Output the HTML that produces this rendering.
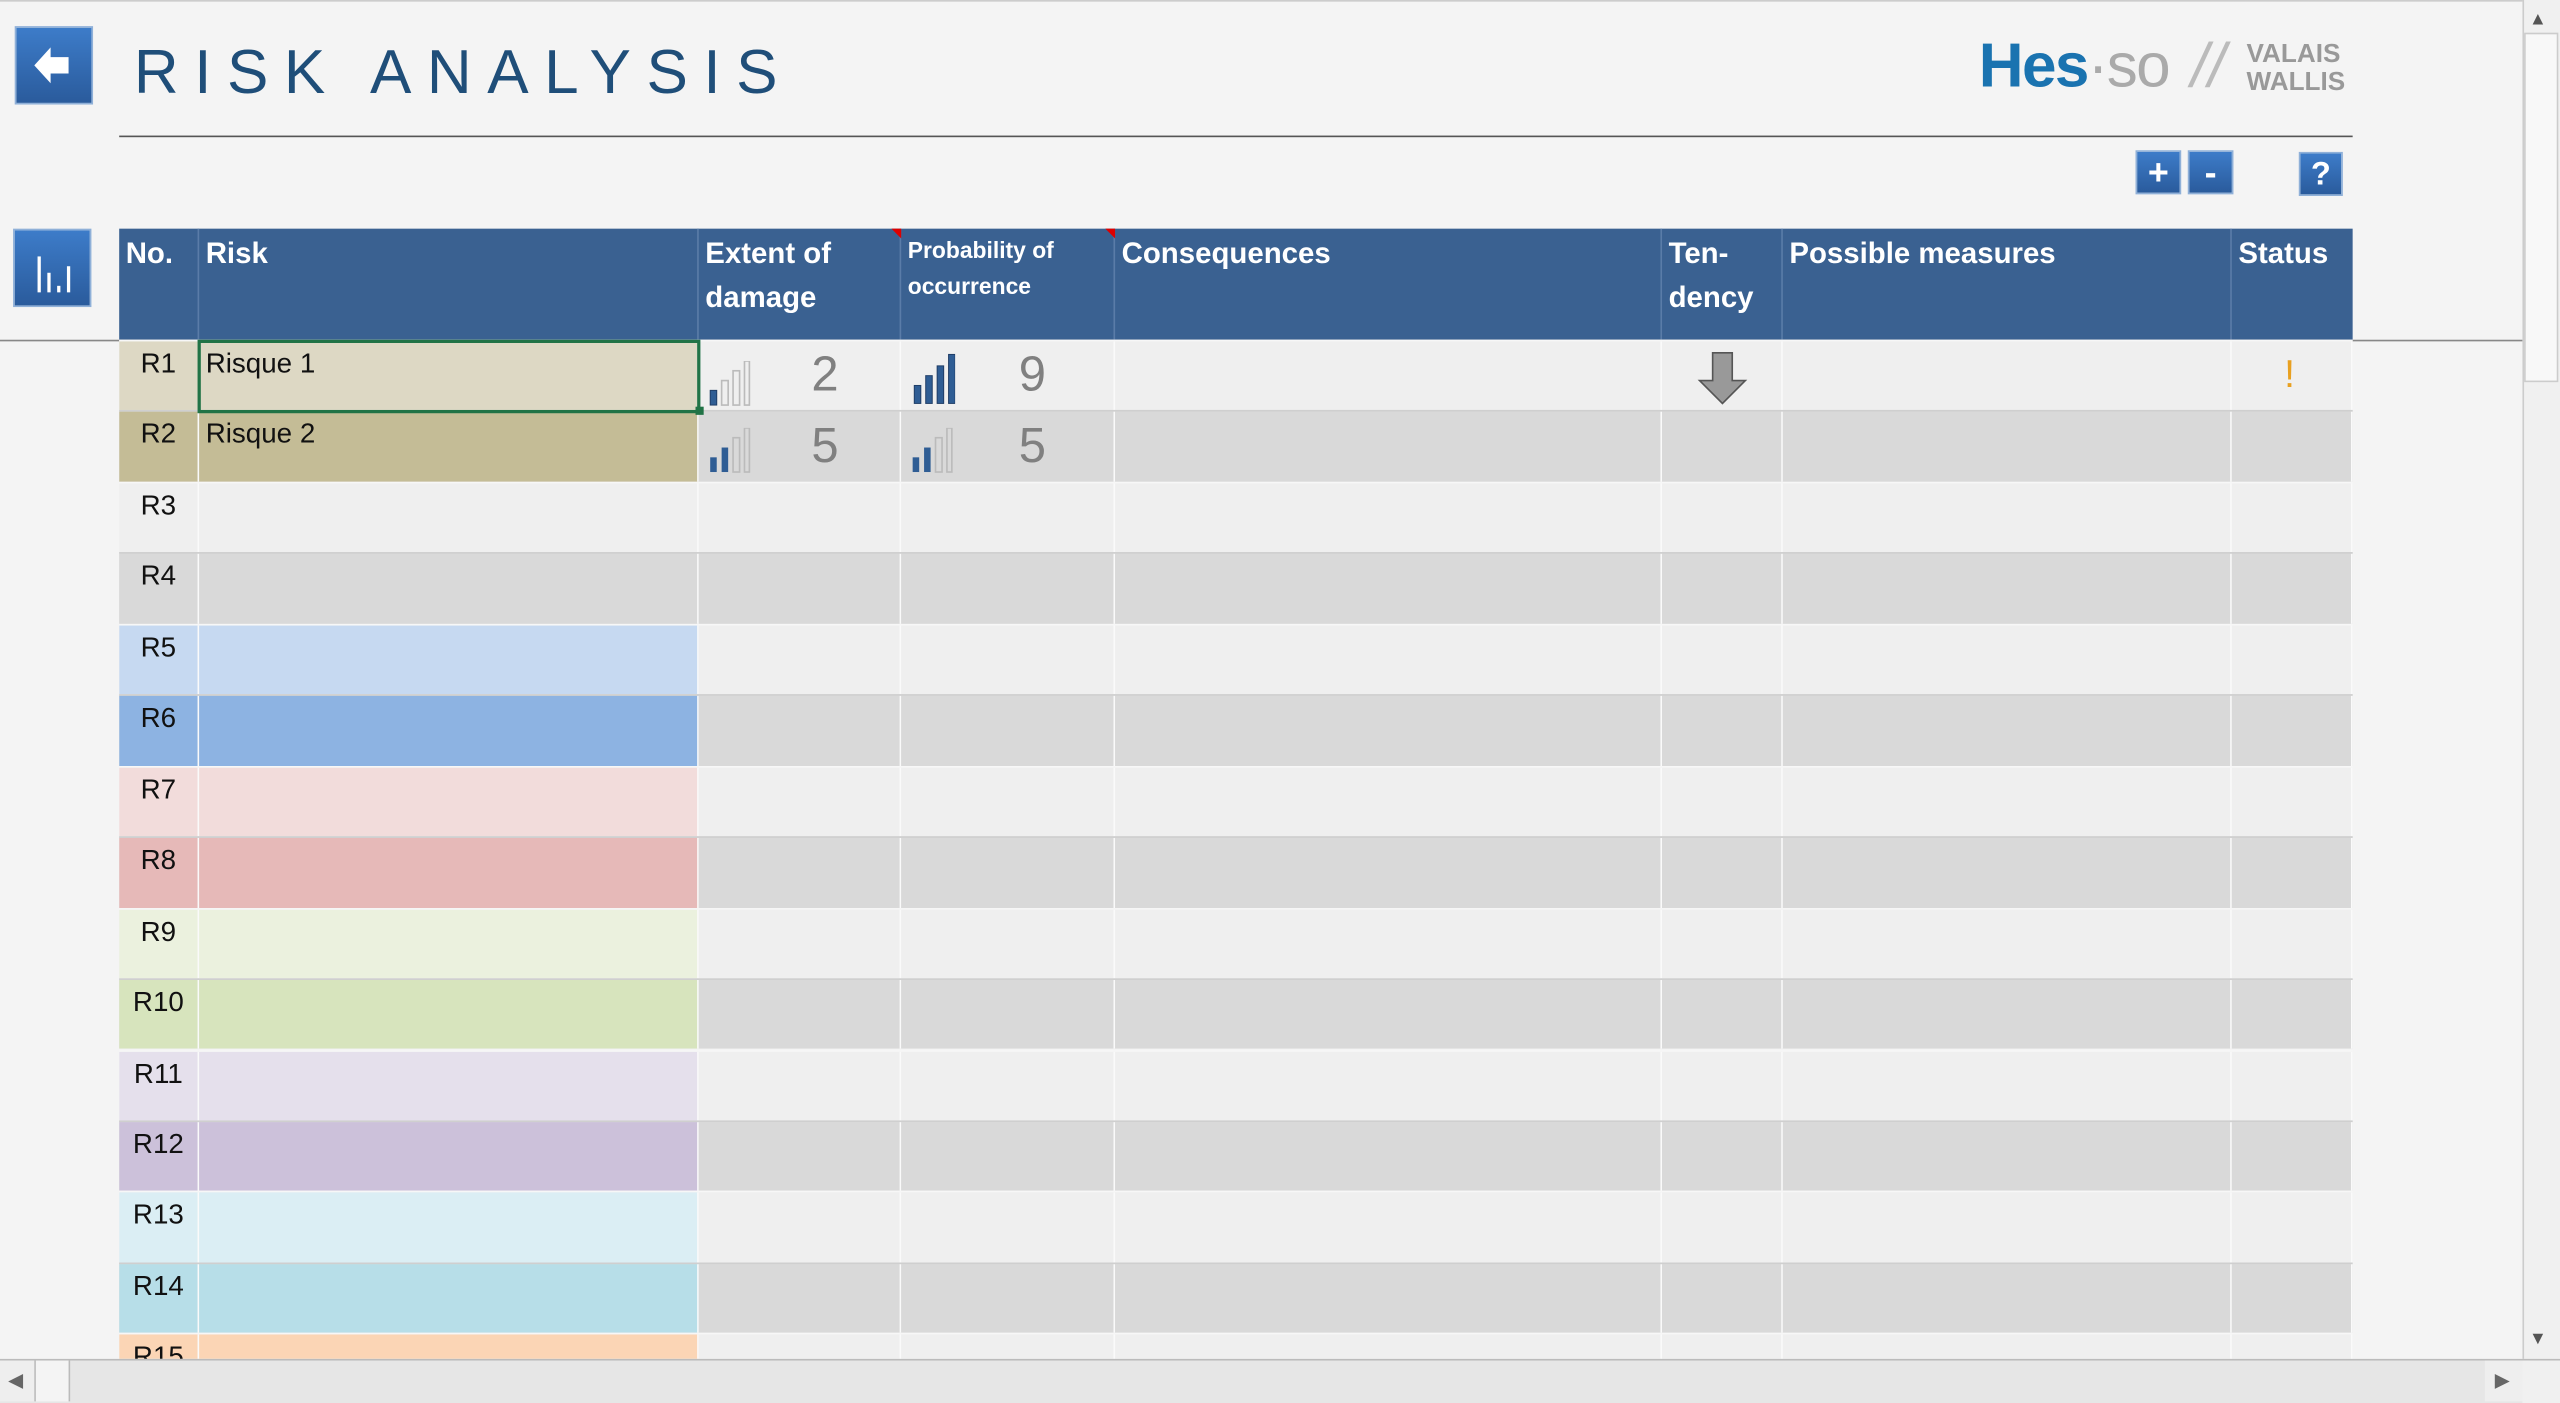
<!DOCTYPE html>
<html><head><meta charset="utf-8"><style>
html,body{margin:0;padding:0;width:2560px;height:1403px;overflow:hidden;background:#f4f4f4;}
#s{position:absolute;left:0;top:0;width:1568px;height:859px;transform:scale(1.63265,1.6333);transform-origin:0 0;font-family:"Liberation Sans Narrow","Liberation Sans",sans-serif;}
.a{position:absolute;box-sizing:border-box;}
.btn{background:linear-gradient(#3d7cc9,#2a5b9c);border:1px solid #8fb0d8;color:#fff;text-align:center;font-weight:bold;}
.h{position:absolute;top:140px;height:68px;color:#fff;font-weight:bold;font-size:18px;line-height:27px;padding:2px 4px;box-sizing:border-box;border-right:1px solid #5a7ca8;}
.r{position:absolute;left:73px;width:1368px;height:43.6px;box-sizing:border-box;}
.c{position:absolute;top:0;height:100%;box-sizing:border-box;border-right:1px solid #fafafa;}
.t{font-size:17px;color:#111;padding:4px 0 0 4px;}
</style></head><body><div id="s">
<div class="a" style="left:0;top:0;width:1568px;height:1px;background:#ccc"></div>
<div class="a btn" style="left:9px;top:16px;width:48px;height:48px;">
<svg width="46" height="46" viewBox="0 0 46 46"><polygon points="11,23 21,12 21,18 32,18 32,28 21,28 21,34" fill="#fff"/></svg></div>
<div class="a" style="left:82px;top:24px;font-family:'Liberation Sans',sans-serif;font-size:38px;letter-spacing:9.5px;color:#1f4e79;">RISK ANALYSIS</div>
<div class="a" style="left:73px;top:83px;width:1368px;height:1px;background:#555"></div>
<div class="a" style="left:1212px;top:20px;font-family:'Liberation Sans',sans-serif;font-weight:bold;font-size:38px;color:#1a73b0;letter-spacing:-1px">Hes<span style="color:#aaa;font-weight:normal">·so</span></div>
<div class="a" style="left:1342px;top:20px;font-size:38px;color:#bbb;font-style:italic;">//</div>
<div class="a" style="left:1376px;top:25px;font-size:16px;line-height:17px;color:#999;font-weight:bold">VALAIS<br>WALLIS</div>
<div class="a btn" style="left:1308px;top:92px;width:28px;height:27px;font-size:22px;line-height:25px">+</div>
<div class="a btn" style="left:1340px;top:92px;width:28px;height:27px;font-size:22px;line-height:25px">-</div>
<div class="a btn" style="left:1408px;top:93px;width:27px;height:27px;font-size:20px;line-height:27px">?</div>
<div class="a btn" style="left:8px;top:140px;width:48px;height:48px;">
<svg width="46" height="46"><g fill="#fff"><rect x="14" y="16" width="2" height="22"/><rect x="20" y="26" width="2" height="12"/><rect x="26" y="34" width="2" height="4"/><rect x="32" y="22" width="2" height="16"/></g></svg></div>
<div class="a" style="left:73px;top:140px;width:1368px;height:68px;background:#3a6191"></div>
<div class="h" style="left:73px;width:49px">No.</div>
<div class="h" style="left:122px;width:306px">Risk</div>
<div class="h" style="left:428px;width:124px">Extent of<br>damage</div>
<div class="h" style="left:552px;width:131px;font-size:14px;line-height:22px">Probability of<br>occurrence</div>
<div class="h" style="left:683px;width:335px">Consequences</div>
<div class="h" style="left:1018px;width:74px">Ten-<br>dency</div>
<div class="h" style="left:1092px;width:275px">Possible measures</div>
<div class="h" style="left:1367px;width:74px;border:none">Status</div>
<div class="a" style="left:546px;top:140px;width:0;height:0;border-left:6px solid transparent;border-top:6px solid #d00"></div>
<div class="a" style="left:677px;top:140px;width:0;height:0;border-left:6px solid transparent;border-top:6px solid #d00"></div>
<div class="a" style="left:0;top:208px;width:1545px;height:1px;background:#888"></div>
<div id="rows"></div>
<div class="a" style="left:428px;top:221px;"><svg width="32" height="30"><rect x="7" y="18" width="4" height="9" fill="#2f5d94" stroke="#1f3d66" stroke-width="0.6"/><rect x="14" y="12" width="4" height="15" fill="none" stroke="#bbb"/><rect x="21" y="6" width="4" height="21" fill="none" stroke="#bbb"/><rect x="28" y="0" width="3" height="27" fill="none" stroke="#bbb"/></svg></div>
<div class="a" style="left:497px;top:213px;font-size:30px;color:#808080">2</div>
<div class="a" style="left:553px;top:216px;"><svg width="32" height="32"><g fill="#2f5d94" stroke="#1f3d66" stroke-width="0.6"><rect x="7" y="20" width="4" height="11"/><rect x="14" y="14" width="4" height="17"/><rect x="21" y="8" width="4" height="23"/><rect x="28" y="1" width="4" height="30"/></g></svg></div>
<div class="a" style="left:624px;top:213px;font-size:30px;color:#808080">9</div>
<div class="a" style="left:428px;top:262px;"><svg width="32" height="30"><rect x="7" y="18" width="4" height="9" fill="#2f5d94"/><rect x="14" y="12" width="4" height="15" fill="#2f5d94"/><rect x="21" y="6" width="4" height="21" fill="none" stroke="#bbb"/><rect x="28" y="0" width="3" height="27" fill="none" stroke="#bbb"/></svg></div>
<div class="a" style="left:497px;top:257px;font-size:30px;color:#808080">5</div>
<div class="a" style="left:552px;top:262px;"><svg width="32" height="30"><rect x="7" y="18" width="4" height="9" fill="#2f5d94"/><rect x="14" y="12" width="4" height="15" fill="#2f5d94"/><rect x="21" y="6" width="4" height="21" fill="none" stroke="#bbb"/><rect x="28" y="0" width="3" height="27" fill="none" stroke="#bbb"/></svg></div>
<div class="a" style="left:624px;top:257px;font-size:30px;color:#808080">5</div>
<div class="a" style="left:1039px;top:215px;"><svg width="32" height="34"><polygon points="10,1 22,1 22,18 30,18 16,32 2,18 10,18" fill="#999" stroke="#555"/></svg></div>
<div class="a" style="left:1399px;top:216px;font-size:24px;color:#e8a020;">!</div>
<div class="a" style="left:121px;top:208px;width:308px;height:45px;border:2px solid #217346"></div>
<div class="a" style="left:426px;top:249px;width:5px;height:5px;background:#217346"></div>
<div class="a" style="left:1545px;top:0;width:23px;height:832px;background:#f0f0f0;border-left:1px solid #ccc"></div>
<div class="a" style="left:1549px;top:6px;font-size:11px;color:#555">▲</div>
<div class="a" style="left:1546px;top:20px;width:21px;height:214px;background:#f8f8f8;border:1px solid #ccc"></div>
<div class="a" style="left:1549px;top:814px;font-size:11px;color:#555">▼</div>
<div class="a" style="left:0;top:832px;width:1568px;height:27px;background:#e6e6e6;border-top:1px solid #bbb"></div>
<div class="a" style="left:0;top:833px;width:22px;height:25px;background:#eee;border-right:1px solid #bbb;font-size:12px;color:#666;line-height:25px;padding-left:5px">◀</div>
<div class="a" style="left:22px;top:833px;width:21px;height:25px;background:#f4f4f4;border-right:1px solid #bbb"></div>
<div class="a" style="left:1522px;top:833px;width:23px;height:25px;background:#eee;font-size:12px;color:#666;line-height:25px;padding-left:6px">▶</div>
<div class="a" style="left:1545px;top:833px;width:23px;height:26px;background:#f0f0f0"></div>
</div>
<script>
(function(){
var cols=["#ddd8c4","#c4bc96",null,null,"#c6d9f1","#8db3e2","#f2dcdb","#e6b9b8","#ebf1de","#d7e4bd","#e5e0ec","#ccc1da","#dbeef4","#b7dee8","#fbd5b5"];
var b=[0,49,355,479,610,945,1019,1294,1368],h="";
for(var i=0;i<15;i++){var bg=i%2?"#d9d9d9":"#efefef";var ty=208+i*43.45;var hh=i==14?832-ty:43.45;
h+='<div class="r" style="top:'+ty+'px;height:'+hh+'px;background:'+bg+';border-top:1px solid '+(i%2?'#cfcfcf':'#f7f7f7')+';overflow:hidden">';
for(var j=0;j<8;j++){var c=(j<2&&cols[i])?cols[i]:bg;h+='<div class="c'+(j<2?' t':'')+'" style="left:'+b[j]+'px;width:'+(b[j+1]-b[j])+'px;background:'+c+';'+(j==0?'text-align:center;padding-left:0;':'')+'">'+(j==0?'R'+(i+1):(j==1&&i<2?'Risque '+(i+1):''))+'</div>';}
h+='</div>';}
var d=document.getElementById('rows');d.insertAdjacentHTML('afterend',h);d.parentNode.removeChild(d);
})();
</script>
</body></html>
